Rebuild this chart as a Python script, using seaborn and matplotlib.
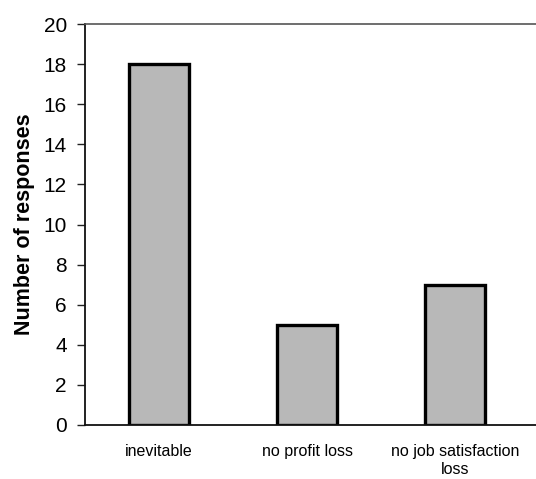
import matplotlib
matplotlib.use("Agg")
import matplotlib.pyplot as plt
import seaborn as sns
import pandas as pd

categories = ["inevitable", "no profit loss", "no job satisfaction\nloss"]
responses = [18, 5, 7]
y_ticks = list(range(0, 21, 2))

sns.set_theme(style="white")
plt.rcParams["font.family"] = ["Liberation Sans", "DejaVu Sans"]

df = pd.DataFrame({"category": categories, "responses": responses})

fig = plt.figure(figsize=(5.36, 4.79), dpi=100)
ax = fig.add_axes([85 / 536, 54 / 479, 1 - 85 / 536, 401 / 479])

sns.barplot(data=df, x="category", y="responses", ax=ax, color="#b8b8b8",
            saturation=1, width=0.405, edgecolor="black", linewidth=2.4)

ax.set_ylim(0, 20)
ax.set_xlim(-0.5, 2.5 + 7 / 148)
ax.set_yticks(y_ticks)
ax.set_yticklabels([str(t) for t in y_ticks], fontsize=15, color="black")
ax.set_xticks(range(len(categories)))
ax.set_xticklabels(categories, fontsize=11.5, linespacing=1.25, color="black")
ax.set_xticks([0.5, 1.5], minor=True)
ax.tick_params(axis="x", which="major", length=0, pad=14)
ax.tick_params(axis="x", which="minor", length=4, width=1, color="#333333", direction="out")
ax.tick_params(axis="y", length=6, width=1, color="#222222", direction="out", left=True, pad=7)

ax.set_xlabel("")
ax.set_ylabel("Number of responses", fontsize=15.5, fontweight="bold",
              color="black", labelpad=6)

for side in ["left", "bottom"]:
    ax.spines[side].set_color("#111111")
    ax.spines[side].set_linewidth(1.3)
ax.spines["top"].set_color("#555555")
ax.spines["top"].set_linewidth(1.2)
ax.spines["right"].set_visible(False)

fig.savefig("out.png", dpi=100)
